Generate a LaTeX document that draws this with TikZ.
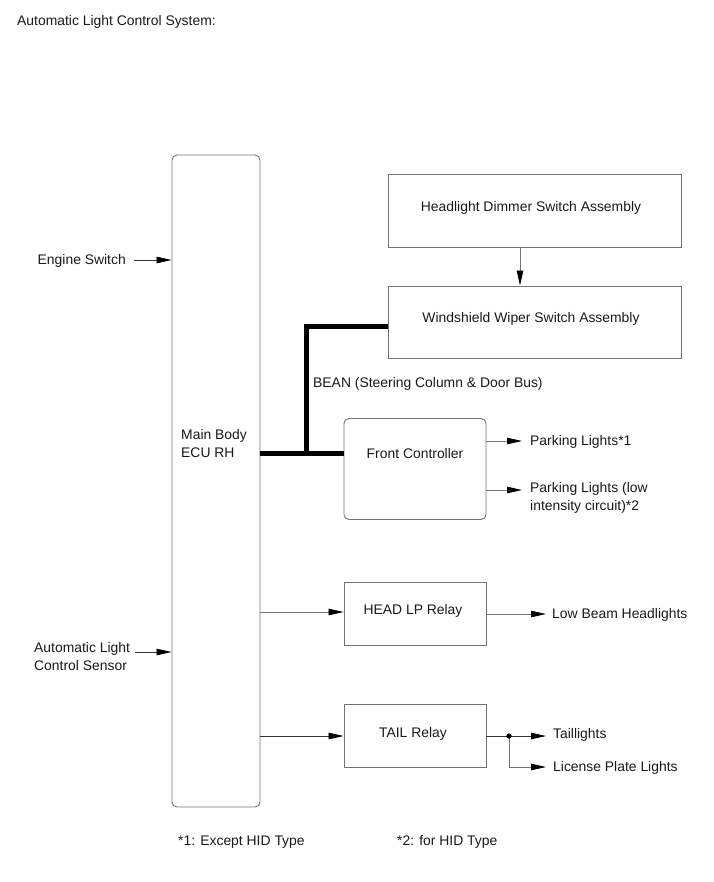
\documentclass[tikz,border=0pt]{standalone}
\usepackage{fontspec}
\setmainfont{Liberation Sans}
\usetikzlibrary{arrows.meta}
\begin{document}
\begin{tikzpicture}[x=1pt,y=-1pt,
  font=\fontsize{13.9}{18}\selectfont,
  box/.style={draw=black!55, line width=0.9pt, minimum width=#1, inner sep=0pt},
  rbox/.style={box=#1, rounded corners=5pt},
  txt/.style={inner sep=0pt, text=black!90},
  arr/.style={draw=black!55, line width=0.8pt, -{Triangle[length=15pt,width=6.5pt,color=black]}},
  arrk/.style={draw=black!80, line width=0.8pt, -{Triangle[length=15pt,width=6.5pt,color=black]}},
  bus/.style={line width=5pt, draw=black}]
\useasboundingbox (0,0) rectangle (713,882);
\node[txt, anchor=west] (title) at (17,22) {Automatic Light Control System:};

% boxes
\node[rbox=88pt, minimum height=652pt] (ecu) at (216,481) {};
\node[txt, anchor=west, align=left] (ecut) at (181,444) {Main Body\\ECU RH};
\node[box=293pt, minimum height=73pt] (dim) at (534.5,210.5) {};
\node[txt] (dimt) at (531,208) {Headlight Dimmer Switch Assembly};
\node[box=293pt, minimum height=72pt] (wip) at (534.5,322) {};
\node[txt] (wipt) at (531,319) {Windshield Wiper Switch Assembly};
\node[rbox=142pt, minimum height=101pt] (fc) at (415,469) {};
\node[txt] (fct) at (415,454) {Front Controller};
\node[box=142pt, minimum height=63pt] (hlp) at (415,613.5) {};
\node[txt] (hlpt) at (413,611) {HEAD LP Relay};
\node[box=142pt, minimum height=63pt] (tail) at (415,735.5) {};
\node[txt] (tailt) at (413,734) {TAIL Relay};

% left inputs
\node[txt, anchor=east] (es) at (126,261) {Engine Switch};
\node[txt, anchor=west, align=left] (als) at (34,657) {Automatic Light\\Control Sensor};
\coordinate (esa) at (134,260);
\coordinate (alsa) at (135,652);
\draw[arrk] (esa) -- (ecu.west |- esa);
\draw[arrk] (alsa) -- (ecu.west |- alsa);

% dimmer -> wiper
\draw[arr] (dim.south) ++(-14.5,0) coordinate (d1) -- (d1 |- wip.north);

% BEAN bus
\coordinate (bj) at (306,453);
\draw[bus] (ecu.east |- bj) -- (fc.west |- bj);
\draw[bus, line join=miter] (bj) -- (306,326) -- (wip.west |- 0,326);
\node[txt, anchor=west] (bean) at (313,384) {BEAN (Steering Column \& Door Bus)};

% front controller outputs
\coordinate (p1) at (fc.east |- 0,441);
\coordinate (p2) at (fc.east |- 0,490);
\node[txt, anchor=west] (pl1) at (530,442) {Parking Lights*1};
\node[txt, anchor=north west, align=left] (pl2) at (530,482) {Parking Lights (low\\intensity circuit)*2};
\draw[arr] (p1) -- (522,441);
\draw[arr] (p2) -- (522,490);

% ECU -> relays
\draw[arr] (ecu.east |- 0,612) -- (hlp.west |- 0,612);
\draw[arrk] (ecu.east |- 0,736) -- (tail.west |- 0,736);

% HEAD LP -> low beam
\node[txt, anchor=west] (lb) at (552,615) {Low Beam Headlights};
\draw[arr] (hlp.east |- 0,614) -- (546,614);

% TAIL outputs
\coordinate (dot) at (509,736);
\node[txt, anchor=west] (tl) at (553,735) {Taillights};
\node[txt, anchor=west] (lpl) at (553,768) {License Plate Lights};
\draw[draw=black!80, line width=0.8pt] (tail.east |- dot) -- (dot);
\draw[arrk] (dot) -- (546,736);
\draw[arr] (dot) -- (509,767) -- (546,767);
\fill (dot) circle (2.6pt);

% footnotes
\node[txt, anchor=west] (f1) at (178,842) {*1: Except HID Type};
\node[txt, anchor=west] (f2) at (397,842) {*2: for HID Type};
\end{tikzpicture}
\end{document}
